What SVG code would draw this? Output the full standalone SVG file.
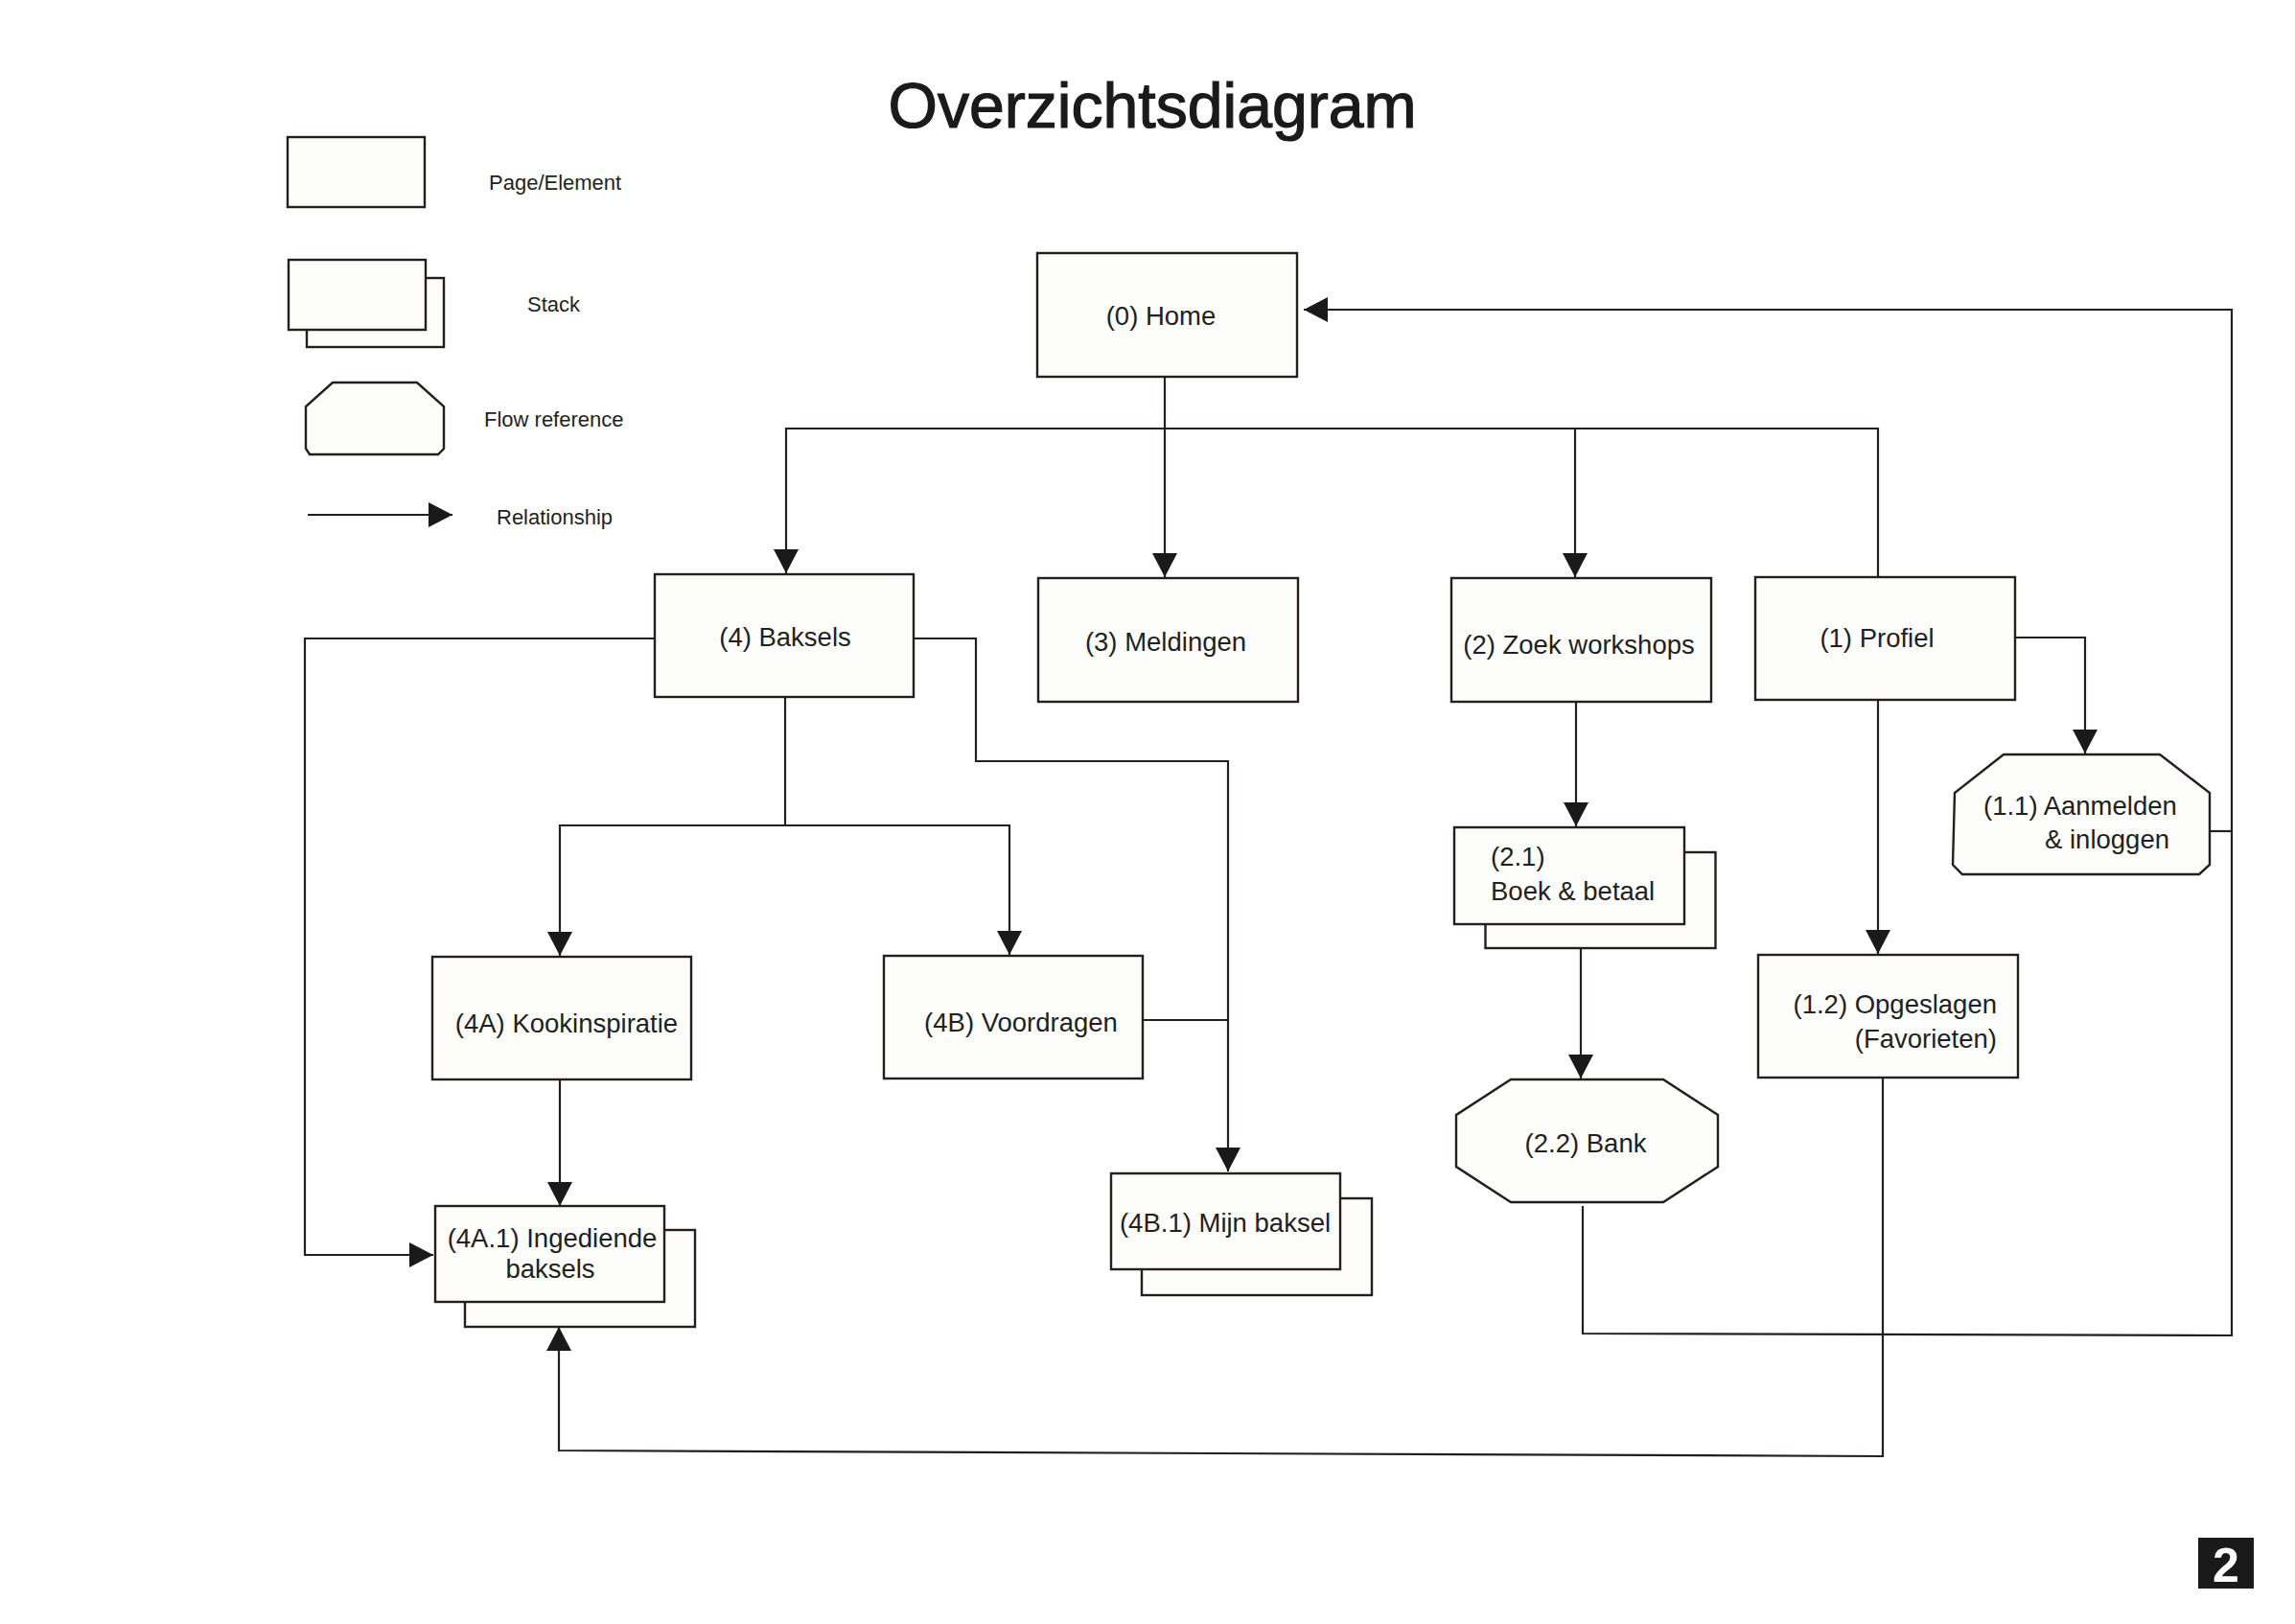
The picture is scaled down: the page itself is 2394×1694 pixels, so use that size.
<svg xmlns="http://www.w3.org/2000/svg" width="2394" height="1694" viewBox="0 0 2394 1694">
<style>
.box{fill:#fdfdfb;stroke:#231f20;stroke-width:2.4}
.ln{fill:none;stroke:#231f20;stroke-width:2.2}
.lbl{font-family:"Liberation Sans",Arial,sans-serif;font-size:27.5px;fill:#231f20}
.c{text-anchor:middle}
.e{text-anchor:end}
.leg{font-size:22px}
</style>
<defs>
<marker id="arr" markerUnits="userSpaceOnUse" viewBox="0 0 25 26" refX="25" refY="13" markerWidth="25" markerHeight="26" orient="auto">
<path d="M0,0 L25,13 L0,26 z" fill="#1a1a1a"/>
</marker>
</defs>
<rect width="2394" height="1694" fill="#ffffff"/>
<text x="1202" y="133" class="lbl c" style="font-size:66px;fill:#1a1a1a;stroke:#1a1a1a;stroke-width:1.2" textLength="551" lengthAdjust="spacingAndGlyphs">Overzichtsdiagram</text>

<g id="legend">
<rect x="300" y="143" width="143" height="73" class="box"/>
<text x="510" y="198" class="lbl leg">Page/Element</text>
<rect x="320" y="290" width="143" height="72" class="box"/>
<rect x="301" y="271" width="143" height="73" class="box"/>
<text x="550" y="325" class="lbl leg">Stack</text>
<polygon points="347,399 435,399 463,424 463,468 457,474 323,474 319,468 319,424" class="box"/>
<text x="505" y="445" class="lbl leg">Flow reference</text>
<path d="M321,537 H472" class="ln" marker-end="url(#arr)"/>
<text x="518" y="547" class="lbl leg">Relationship</text>
</g>

<g id="connectors">
<path d="M1215,393 V602" class="ln" marker-end="url(#arr)"/>
<path d="M1959,601 V447 H820 V598" class="ln" marker-end="url(#arr)"/>
<path d="M1643,447 V602" class="ln" marker-end="url(#arr)"/>
<path d="M1651,1258 V1391 L2328,1393 V323 H1360" class="ln" marker-end="url(#arr)"/>
<path d="M2305,867 H2328" class="ln"/>
<path d="M2102,665 H2175 V786" class="ln" marker-end="url(#arr)"/>
<path d="M1959,730 V995" class="ln" marker-end="url(#arr)"/>
<path d="M1964,1124 V1519 L583,1513 V1384" class="ln" marker-end="url(#arr)"/>
<path d="M1644,732 V862" class="ln" marker-end="url(#arr)"/>
<path d="M1649,989 V1125" class="ln" marker-end="url(#arr)"/>
<path d="M682,666 H318 V1309 H452" class="ln" marker-end="url(#arr)"/>
<path d="M953,666 H1018 V794 H1281 V1222" class="ln" marker-end="url(#arr)"/>
<path d="M1192,1064 H1281" class="ln"/>
<path d="M819,727 V861 H584 V997" class="ln" marker-end="url(#arr)"/>
<path d="M819,861 H1053 V996" class="ln" marker-end="url(#arr)"/>
<path d="M584,1126 V1258" class="ln" marker-end="url(#arr)"/>
</g>

<g id="home">
<rect x="1082" y="264" width="271" height="129" class="box"/>
<text x="1211" y="339" class="lbl c">(0) Home</text>
</g>
<g id="baksels">
<rect x="683" y="599" width="270" height="128" class="box"/>
<text x="819" y="674" class="lbl c">(4) Baksels</text>
</g>
<g id="meldingen">
<rect x="1083" y="603" width="271" height="129" class="box"/>
<text x="1216" y="679" class="lbl c">(3) Meldingen</text>
</g>
<g id="zoek-workshops">
<rect x="1514" y="603" width="271" height="129" class="box"/>
<text x="1647" y="682" class="lbl c">(2) Zoek workshops</text>
</g>
<g id="profiel">
<rect x="1831" y="602" width="271" height="128" class="box"/>
<text x="1958" y="675" class="lbl c">(1) Profiel</text>
</g>
<g id="aanmelden">
<polygon points="2090,787 2253,787 2305,827 2305,902 2294,912 2047,912 2037,902 2039,827" class="box"/>
<text x="2069" y="850" class="lbl">(1.1) Aanmelden</text>
<text x="2133" y="885" class="lbl">&amp; inloggen</text>
</g>
<g id="boek-betaal">
<rect x="1549.5" y="889" width="240" height="100" class="box"/>
<rect x="1517" y="863" width="240" height="101" class="box"/>
<text x="1555" y="903" class="lbl">(2.1)</text>
<text x="1555" y="939" class="lbl">Boek &amp; betaal</text>
</g>
<g id="bank">
<polygon points="1576,1126 1735,1126 1792,1163 1792,1217 1735,1254 1576,1254 1519,1217 1519,1163" class="box"/>
<text x="1654" y="1202" class="lbl c">(2.2) Bank</text>
</g>
<g id="opgeslagen">
<rect x="1834" y="996" width="271" height="128" class="box"/>
<text x="2083" y="1057" class="lbl e">(1.2) Opgeslagen</text>
<text x="2083" y="1093" class="lbl e">(Favorieten)</text>
</g>
<g id="kookinspiratie">
<rect x="451" y="998" width="270" height="128" class="box"/>
<text x="591" y="1077" class="lbl c">(4A) Kookinspiratie</text>
</g>
<g id="voordragen">
<rect x="922" y="997" width="270" height="128" class="box"/>
<text x="1065" y="1076" class="lbl c">(4B) Voordragen</text>
</g>
<g id="ingediende-baksels">
<rect x="485" y="1283" width="240" height="101" class="box"/>
<rect x="454" y="1258" width="239" height="100" class="box"/>
<text x="576" y="1301" class="lbl c">(4A.1) Ingediende</text>
<text x="574" y="1333" class="lbl c">baksels</text>
</g>
<g id="mijn-baksel">
<rect x="1191" y="1250" width="240" height="101" class="box"/>
<rect x="1159" y="1224" width="239" height="100" class="box"/>
<text x="1278" y="1285" class="lbl c">(4B.1) Mijn baksel</text>
</g>

<g id="page-number">
<rect x="2293" y="1604" width="58" height="53" fill="#1a1a1a"/>
<text x="2322" y="1650" class="lbl c" style="font-size:50px;font-weight:bold;fill:#ffffff">2</text>
</g>
</svg>
